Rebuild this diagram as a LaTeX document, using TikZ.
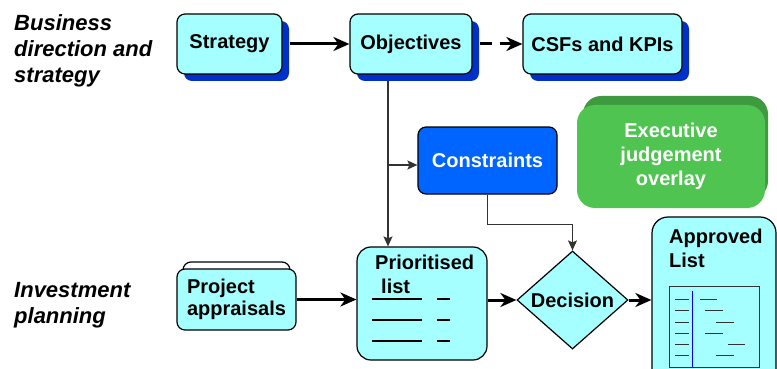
\documentclass[tikz,border=0pt]{standalone}
\usepackage{fontspec}
\setmainfont{Liberation Sans}
\usetikzlibrary{shapes.geometric,arrows.meta,shadows,backgrounds}
\definecolor{cyanfill}{RGB}{166,255,255}
\definecolor{shadowblue}{RGB}{0,48,200}
\definecolor{conblue}{RGB}{0,100,255}
\definecolor{greenfront}{RGB}{80,196,80}
\definecolor{greenback}{RGB}{62,154,62}
\definecolor{linegray}{RGB}{50,50,50}
\begin{document}
\begin{tikzpicture}[x=1pt,y=-1pt,
  lbl/.style={font=\bfseries\itshape\fontsize{22}{26}\selectfont, align=left, inner sep=0pt, anchor=west},
  boxfont/.style={font=\bfseries\fontsize{20}{23}\selectfont},
  cbox/.style={draw, line width=1.2pt, rounded corners=8pt, fill=cyanfill, boxfont, inner sep=0pt},
  bshadow/.style={drop shadow={shadow xshift=7pt, shadow yshift=-7pt, fill=shadowblue, opacity=1}},
  thickarrow/.style={line width=3pt, -{Stealth[length=16pt,width=14pt,inset=5pt]}},
  thinline/.style={line width=1.3pt, draw=linegray},
  thinarrow/.style={thinline, -{Stealth[length=10pt,width=9pt,inset=2pt]}},
]
\useasboundingbox (0,0) rectangle (777,369);
\clip (0,0) rectangle (777,369);

% left labels
\node[lbl] (lblbus) at (14,51) {Business\\direction and\\strategy};
\node[lbl] (lblinv) at (14,305) {Investment\\planning};

% top row
\node[cbox, bshadow, minimum width=105pt, minimum height=60pt] (strat) at (229.5,44) {Strategy};
\node[cbox, bshadow, minimum width=122pt, minimum height=60pt] (obj) at (411,44) {Objectives};
\node[cbox, bshadow, minimum width=159pt, minimum height=60pt] (csf) at (602.5,44) {CSFs and KPIs};

% constraints
\node[draw, line width=1.2pt, rounded corners=8pt, fill=conblue, text=white, boxfont,
      minimum width=139pt, minimum height=67pt, inner sep=0pt] (constr) at (487.5,160.5) {Constraints};

% executive overlay
\fill[greenback, rounded corners=18pt] (583,96) rectangle (768,199);
\node[fill=greenfront, rounded corners=18pt, text=white, align=center,
      font=\bfseries\fontsize{20}{24}\selectfont,
      minimum width=188pt, minimum height=103pt, inner sep=0pt] (exec) at (671,156.5) {Executive\\judgement\\overlay};

% project appraisals
\draw[line width=1.2pt, fill=white, rounded corners=8pt] (183,262) rectangle (290,300);
\node[cbox, minimum width=119pt, minimum height=61pt, align=left, text width=99pt,
      font=\bfseries\fontsize{20}{22}\selectfont] (proj) at (236.5,299.5) {Project\\appraisals};

% prioritised list
\node[cbox, rounded corners=14pt, minimum width=130pt, minimum height=113pt] (prio) at (422,303.5) {};
\node[boxfont, anchor=base west, inner sep=0pt] (priot1) at (375,269) {Prioritised};
\node[boxfont, anchor=base west, inner sep=0pt] (priot2) at (381,293) {list};
\foreach \yy in {299,320,341} {
  \draw[line width=1.5pt] (372,\yy) -- (422,\yy);
  \draw[line width=1.5pt] (437,\yy) -- (450,\yy);
}

% decision
\node[diamond, draw, line width=1.2pt, fill=cyanfill, boxfont, inner sep=0pt,
      minimum width=111pt, minimum height=90pt] (dec) at (572.5,300) {Decision};

% approved list
\node[cbox, rounded corners=16pt, minimum width=124pt, minimum height=182pt] (appr) at (714,308) {};
\node[boxfont, anchor=north west, align=left, inner sep=0pt,
      font=\bfseries\fontsize{20}{24}\selectfont] (apprt) at (669,229) {Approved\\List};
\draw[line width=1pt, draw=linegray] (669,286) rectangle (759,367);
\draw[line width=1pt, draw=blue] (692,291) -- (692,367);
\foreach \yy/\xa/\xb in {299/700/717, 310/705/723, 322/716/734, 333/705/723, 344/728/745, 355/716/734} {
  \draw[line width=1pt, draw=linegray] (675,\yy) -- (689,\yy);
  \draw[line width=1pt, draw=linegray] (\xa,\yy) -- (\xb,\yy);
}

% connectors
\coordinate (split) at (388,165);
\begin{pgfonlayer}{background}
  \draw[thinline] (split |- obj.south) -- (split);
  \draw[thinarrow] (split) -- (split |- prio.north);
  \draw[thinarrow] (split) -- (split -| constr.west);
  \draw[thinarrow] (constr.south) -- ++(0,30) -| (dec.north);
\end{pgfonlayer}
\draw[thickarrow] ([xshift=7pt]strat.east) -- (obj.west);
\draw[thickarrow, dash pattern=on 12pt off 8pt] ([xshift=7pt]obj.east) -- (csf.west);
\draw[thickarrow] (proj.east) -- (prio.west |- proj.east);
\draw[thickarrow] (prio.east |- dec.west) -- (dec.west);
\draw[thickarrow] (dec.east) -- (appr.west |- dec.east);
\end{tikzpicture}
\end{document}
